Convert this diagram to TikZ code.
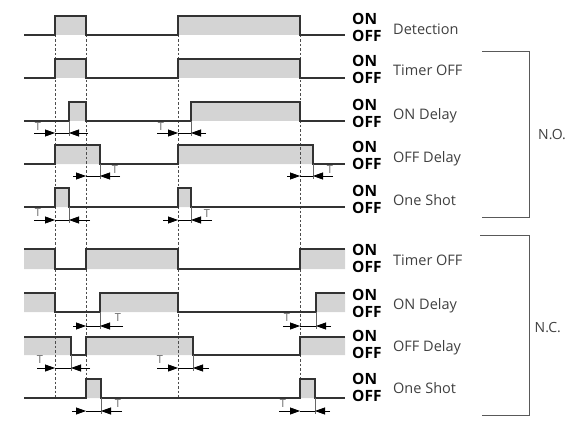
\documentclass[tikz,border=0pt]{standalone}
\usepackage{fontspec}
\setmainfont{Open Sans}
\usetikzlibrary{arrows.meta}
\begin{document}
\begin{tikzpicture}[x=1pt,y=-1pt,
  sig/.style={line width=1.3pt,black!80,line join=miter},
  hi/.style={fill=black!17},
  guide/.style={dash pattern=on 2.5pt off 2pt,line width=0.8pt,black!70},
  tarrow/.style={line width=0.8pt,-{Triangle[length=10pt,width=7pt]}},
  tline/.style={line width=0.8pt},
  tickl/.style={line width=0.8pt,black!60},
  tlab/.style={font=\fontsize{11}{11}\selectfont,text=black!60,inner sep=0pt},
  onoff/.style={font=\fontsize{15.5}{16}\selectfont\bfseries,inner sep=0pt,anchor=base west},
  rowlab/.style={font=\fontsize{14.5}{15}\selectfont,text=black!75,inner sep=0pt,anchor=base west},
  grp/.style={font=\fontsize{14}{15}\selectfont,text=black!75,inner sep=0pt,anchor=base west},
  bracket/.style={line width=0.9pt,black!65}]
\useasboundingbox (0,0) rectangle (587,444);

% ---- high-level fills
\fill[black!17] (55,16) rectangle (86,35) (178,16) rectangle (300,35);
\fill[black!17] (55,59) rectangle (86,78) (178,59) rectangle (300,78);
\fill[black!17] (69,102) rectangle (86,121) (191,102) rectangle (300,121);
\fill[black!17] (55,145) rectangle (100,164) (178,145) rectangle (313,164);
\fill[black!17] (55,188) rectangle (69,207) (178,188) rectangle (191,207);
\fill[black!17] (24,249) rectangle (55,269) (86,249) rectangle (178,269) (300,249) rectangle (345,269);
\fill[black!17] (24,293) rectangle (55,312) (100,293) rectangle (178,312) (316,293) rectangle (345,312);
\fill[black!17] (24,337) rectangle (71,355) (86,337) rectangle (193,355) (300,337) rectangle (345,355);
\fill[black!17] (86,379) rectangle (101,398) (300,379) rectangle (315,398);

% ---- dashed guides
\foreach \x in {55,86,178,300} \draw[guide] (\x,35) -- (\x,398);

% ---- signals
\draw[sig] (24,35)-|(55,16)-|(86,35)-|(178,16)-|(300,35)--(345,35);
\draw[sig] (24,78)-|(55,59)-|(86,78)-|(178,59)-|(300,78)--(345,78);
\draw[sig] (24,121)-|(69,102)-|(86,121)-|(191,102)-|(300,121)--(345,121);
\draw[sig] (24,164)-|(55,145)-|(100,164)-|(178,145)-|(313,164)--(345,164);
\draw[sig] (24,207)-|(55,188)-|(69,207)-|(178,188)-|(191,207)--(345,207);
\draw[sig] (24,249)-|(55,269)-|(86,249)-|(178,269)-|(300,249)--(345,249);
\draw[sig] (24,293)-|(55,312)-|(100,293)-|(178,312)-|(316,293)--(345,293);
\draw[sig] (24,337)-|(71,355)-|(86,337)-|(193,355)-|(300,337)--(345,337);
\draw[sig] (24,398)-|(86,379)-|(101,398)-|(300,379)-|(315,398)--(345,398);

% ---- T markers: y, left tail, left tip, right tip, right tail, tick top, Tx, Ty
\newcommand\tpair[8]{%
  \draw[tickl] (#4,#6) -- (#4,#1+3);
  \draw[tline] (#3,#1) -- (#4,#1);
  \draw[tarrow] (#2,#1) -- (#3,#1);
  \draw[tarrow] (#5,#1) -- (#4,#1);
  \node[tlab] at (#7,#8) {T};
}
\tpair{133}{34}{55}{69}{88}{121}{38}{127}
\tpair{133}{157}{178}{191}{206}{121}{161}{127}
\tpair{176}{73}{86}{100}{120}{164}{115}{170}
\tpair{176}{287}{300}{313}{333}{164}{330}{170}
\tpair{220}{34}{55}{69}{90}{207}{38}{213}
\tpair{220}{163}{178}{191}{212}{207}{207}{214}
\tpair{326}{73}{86}{100}{123}{312}{118}{318}
\tpair{326}{283}{300}{316}{331}{312}{287}{318}
\tpair{368}{37}{55}{71}{90}{355}{40}{360}
\tpair{368}{157}{178}{193}{209}{355}{160}{360}
\tpair{411}{72}{86}{101}{122}{398}{118}{404}
\tpair{411}{279}{300}{315}{330}{398}{283}{404}

% ---- ON/OFF and row labels
\foreach \b/\t [count=\i] in {25/Detection,66.7/Timer OFF,110.7/ON Delay,152.7/OFF Delay,196/One Shot,255.7/Timer OFF,300/ON Delay,341.7/OFF Delay,384/One Shot}{
  \node[onoff] (on\i) at (352,\b) {ON};
  \node[onoff] (off\i) at (352,\b+17) {OFF};
  \node[rowlab] (lab\i) at (393,\b+9.3) {\t};
}

% ---- group brackets
\draw[bracket] (482,51) -- (529,51) -- (529,217) -- (482,217);
\node[grp] (no) at (538,139.3) {N.O.};
\draw[bracket] (480,235) -- (529,235) -- (529,415) -- (482,415);
\node[grp] (nc) at (534.5,332.3) {N.C.};
\end{tikzpicture}
\end{document}
